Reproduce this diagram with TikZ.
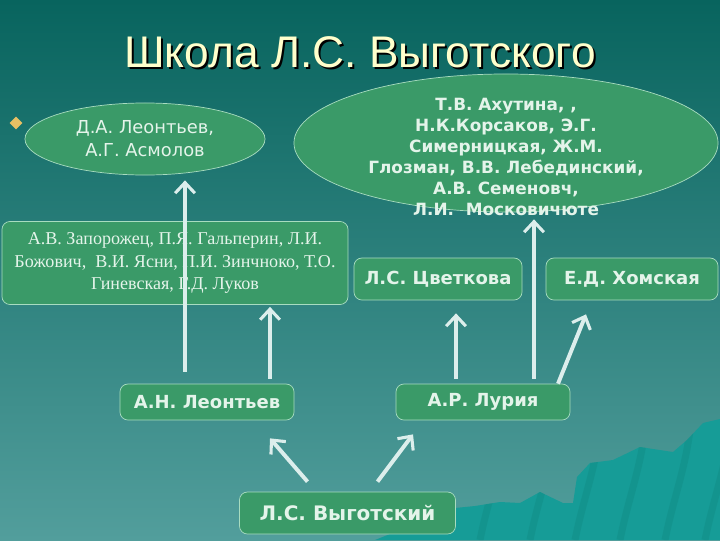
\documentclass[tikz,border=0pt]{standalone}
\usepackage{fontspec}
\setmainfont{Liberation Serif}
\newfontfamily\titlefont{Liberation Sans}
\newfontfamily\dejavu{DejaVu Sans}
\usetikzlibrary{shapes,arrows.meta,calc}
\definecolor{bgtop}{HTML}{08645E}
\definecolor{bgbot}{HTML}{529E9C}
\definecolor{hill}{HTML}{169C97}
\definecolor{hilldark}{HTML}{10867F}
\definecolor{boxfill}{HTML}{3A9A68}
\definecolor{boxline}{HTML}{A8DCC0}
\definecolor{boxtext}{HTML}{E4F4EA}
\definecolor{arrowcol}{HTML}{DCEEEC}
\definecolor{titlecol}{HTML}{FFFFCC}
\definecolor{bulletcol}{HTML}{E8C064}
\tikzstyle{block} = [rectangle, draw=boxline, line width=0.5pt, fill=boxfill,
    text=boxtext, rounded corners=0.2cm, align=center, inner sep=2pt,
    font=\dejavu\bfseries\fontsize{12.8}{15}\selectfont]
\tikzstyle{oval} = [ellipse, draw=boxline, line width=0.5pt, fill=boxfill,
    text=boxtext, align=center, inner sep=0pt]
\tikzstyle{line} = [draw=arrowcol, line width=2.8pt,
    -{Straight Barb[length=7.5pt, width=14pt, line width=2.2pt]}]

\begin{document}
\begin{tikzpicture}[x=0.025cm, y=-0.025cm]
        % Background
        \shade[top color=bgtop, bottom color=bgbot] (0,0) rectangle (720,540);
        \begin{scope}
            \path[clip] (375,540) -- (420,522) -- (455,508) -- (475,506) -- (500,502)
                -- (520,503) -- (540,492) -- (563,503) -- (573,503) -- (577,477)
                -- (590,463) -- (613,460) -- (640,447) -- (673,452) -- (687,440)
                -- (703,423) -- (720,419) -- (720,540) -- cycle;
            \fill[hill] (360,400) rectangle (720,540);
            \foreach \sx in {480, 530, 575, 620, 665, 705}
                \draw[hilldark, line width=5pt, opacity=0.35] (\sx,540) .. controls (\sx+8,500) and (\sx+20,470) .. (\sx+25,430);
        \end{scope}
        \useasboundingbox (0,0) rectangle (720,540);

        % Title
        \node (shadow) [text=black, font=\titlefont\fontsize{31.5}{36}\selectfont]
            at (362,54) {Школа Л.С. Выготского};
        \node (title) [text=titlecol, font=\titlefont\fontsize{31.5}{36}\selectfont]
            at (360,52) {Школа Л.С. Выготского};
        \node (bullet) [diamond, fill=bulletcol, inner sep=0pt, minimum size=0.32cm]
            at (16,123) {};

        % Place nodes
        \node (dal) [oval, minimum width=6.0cm, minimum height=1.8cm,
            font=\dejavu\fontsize{12.7}{16.4}\selectfont] at (145,139)
            {Д.А. Леонтьев,\\А.Г. Асмолов};
        \node (akhbg) [oval, minimum width=10.6cm, minimum height=3.45cm] at (506,143) {};
        \node (akh) [text=boxtext, align=center,
            font=\dejavu\bfseries\fontsize{12}{15}\selectfont] at (506,157)
            {Т.В. Ахутина, ,\\Н.К.Корсаков, Э.Г.\\Симерницкая, Ж.М.\\Глозман, В.В. Лебединский,\\А.В. Семеновч,\\Л.И.\ \ Московичюте};
        \node (zap) [block, minimum width=8.65cm, minimum height=2.075cm,
            font=\rmfamily\fontsize{12.85}{16}\selectfont] at (175,263)
            {А.В. Запорожец, П.Я. Гальперин, Л.И.\\Божович,\ \ В.И. Ясни, П.И. Зинчноко, Т.О.\\Гиневская, Г.Д. Луков};
        \node (tsv) [block, minimum width=4.2cm, minimum height=1.05cm] at (438,279) {Л.С. Цветкова};
        \node (kho) [block, minimum width=4.3cm, minimum height=1.05cm] at (632,279) {Е.Д. Хомская};
        \node (leo) [block, minimum width=4.35cm, minimum height=0.9cm] at (207,402) {А.Н. Леонтьев};
        \node (lur) [block, minimum width=4.35cm, minimum height=0.9cm] at (483,402) {А.Р. Лурия};
        \node (vyg) [block, minimum width=5.4cm, minimum height=1.05cm,
            font=\dejavu\bfseries\fontsize{14.2}{17}\selectfont] at (347.5,513) {Л.С. Выготский};

        % Vygotsky
        \path [line] ($(vyg.north)+(-40,-10)$) -- ($(leo.south)+(63,18)$);
        \path [line] ($(vyg.north)+(30,-10)$) -- ($(lur.south)+(-70,14)$);

        % Leontiev
        \path [line] ($(leo.north)+(-22,-12)$) -- ($(dal.south)+(40,5)$);
        \path [line] ($(leo.north)+(63,-5)$) -- ($(zap.south)+(95,2)$);

        % Luria
        \path [line] ($(lur.north)+(-27,-5)$) -- ($(tsv.south)+(18,13)$);
        \path [line] ($(lur.north)+(51,-5)$) -- ($(akhbg.south)+(28,7)$);
        \path [line] ($(lur.north)+(75,0)$) -- ($(kho.south)+(-46,14)$);
    \end{tikzpicture}
\end{document}
